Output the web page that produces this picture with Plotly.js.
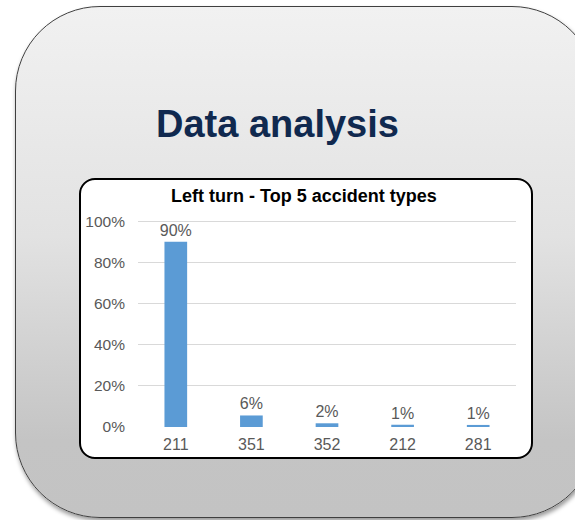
<!DOCTYPE html>
<html>
<head>
<meta charset="utf-8">
<script src="https://cdn.plot.ly/plotly-3.0.1.min.js"></script>
<style>
  html, body { margin:0; padding:0; background:#ffffff; width:575px; height:520px; overflow:hidden; }
  #card {
    position:absolute; left:15px; top:6px; width:582px; height:512px; box-sizing:border-box;
    border:1.5px solid #3f3f3f; border-radius:85px;
    background: linear-gradient(to bottom, #f1f1f1 0%, #e2e2e2 45%, #c4c4c4 85%, #c3c3c3 100%);
    box-shadow: 1px 3px 4px rgba(0,0,0,0.4);
  }
  #inner {
    position:absolute; left:79px; top:178px; width:454px; height:281px; box-sizing:border-box;
    background:#ffffff; border:2px solid #000000; border-radius:16px;
  }
  #chart { position:absolute; left:0; top:0; width:575px; height:520px; }
</style>
</head>
<body>
<div id="card"></div>
<div id="inner"></div>
<div id="chart"></div>
<script>
const categories = ["211", "351", "352", "212", "281"];
const shares = [0.90, 0.056, 0.018, 0.011, 0.010];
const yTickValues = [0, 0.2, 0.4, 0.6, 0.8, 1.0];
const yTickLabels = ["0%", "20%", "40%", "60%", "80%", "100%"];
const mainTitle = "Data analysis";
const chartTitle = "Left turn - Top 5 accident types";

const fontFam = "Liberation Sans, Arial, sans-serif";

// plot area: y=0 at 427px, y=1 at 221px; top extended to 1.02
const yTop = 1.02;
const pxPerUnit = 206;
const plotTop = 427 - yTop * pxPerUnit;

const trace = {
  type: "bar",
  x: categories,
  y: shares,
  marker: { color: "#5b9bd5" },
  texttemplate: "%{y:.0%}",
  textposition: "outside",
  constraintext: "none",
  textfont: { family: fontFam, size: 16, color: "#595959" },
  cliponaxis: false,
  hoverinfo: "skip"
};

function py(p) { return (427 - p) / (yTop * pxPerUnit); }
function px(p) { return (p - 138) / 378; }

const layout = {
  width: 575, height: 520,
  margin: { l: 138, r: 59, t: plotTop, b: 93 },
  paper_bgcolor: "rgba(0,0,0,0)",
  plot_bgcolor: "rgba(0,0,0,0)",
  showlegend: false,
  bargap: 0.70,
  font: { family: fontFam, color: "#595959", size: 16 },
  xaxis: {
    type: "category",
    showgrid: false, zeroline: false, showline: false, ticks: "",
    tickfont: { family: fontFam, size: 16, color: "#595959" },
    ticklabelstandoff: 6
  },
  yaxis: {
    range: [0, yTop],
    tickvals: yTickValues, ticktext: yTickLabels,
    showgrid: true, gridcolor: "#d9d9d9", gridwidth: 1,
    zeroline: false, showline: false, ticks: "",
    tickfont: { family: fontFam, size: 15.5, color: "#595959" },
    ticklabelstandoff: 12
  },
  annotations: [
    {
      text: "<b>" + mainTitle + "</b>",
      xref: "paper", yref: "paper",
      x: px(277), y: py(124),
      xanchor: "center", yanchor: "middle", showarrow: false,
      font: { family: fontFam, size: 38, color: "#10294f" }
    },
    {
      text: "<b>" + chartTitle + "</b>",
      xref: "paper", yref: "paper",
      x: px(304), y: py(196),
      xanchor: "center", yanchor: "middle", showarrow: false,
      font: { family: fontFam, size: 18, color: "#000000" }
    }
  ]
};

Plotly.newPlot("chart", [trace], layout, { displayModeBar: false, staticPlot: true });
</script>
</body>
</html>
